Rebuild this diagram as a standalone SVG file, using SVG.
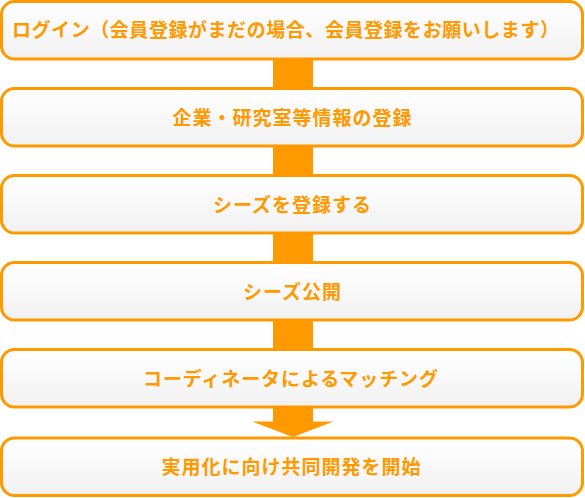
<svg xmlns="http://www.w3.org/2000/svg" width="585" height="498" viewBox="0 0 585 498">
<defs>
<linearGradient id="g" x1="0" y1="0" x2="0" y2="1">
<stop offset="0" stop-color="#ffffff"/>
<stop offset="1" stop-color="#f1f1f1"/>
</linearGradient>
<style>
.box{fill:url(#g);stroke:#ff9900;stroke-width:3}
.t{font-family:"Noto Sans CJK JP","Noto Sans CJK SC",sans-serif;font-size:19px;font-weight:bold;fill:#ff9900}
.c{text-anchor:middle}
.conn{fill:#ff9900}
</style>
</defs>
<g id="connectors">
<rect class="conn" x="273" y="59" width="40" height="30"/>
<rect class="conn" x="273" y="146" width="40" height="30"/>
<rect class="conn" x="273" y="233" width="40" height="30"/>
<rect class="conn" x="273" y="320" width="40" height="30"/>
<polygon class="conn" points="273,407 313,407 313,421.5 333.5,421.5 293,437 252,421.5 273,421.5"/>
</g>
<g id="n1">
<rect class="box" x="1.5" y="1.5" width="581" height="57.5" rx="13"/>
<text class="t" x="12" y="37" textLength="547" lengthAdjust="spacing">ログイン（会員登録がまだの場合、会員登録をお願いします）</text>
</g>
<g id="n2">
<rect class="box" x="1.5" y="88.5" width="581" height="57.5" rx="13"/>
<text class="t c" x="292" y="124.5" textLength="239" lengthAdjust="spacing">企業・研究室等情報の登録</text>
</g>
<g id="n3">
<rect class="box" x="1.5" y="175.5" width="581" height="57.5" rx="13"/>
<text class="t c" x="292" y="211.5" textLength="158" lengthAdjust="spacing">シーズを登録する</text>
</g>
<g id="n4">
<rect class="box" x="1.5" y="262.5" width="581" height="57.5" rx="13"/>
<text class="t c" x="292" y="298.5" textLength="98" lengthAdjust="spacing">シーズ公開</text>
</g>
<g id="n5">
<rect class="box" x="1.5" y="349.5" width="581" height="57.5" rx="13"/>
<text class="t c" x="290.5" y="385.5" textLength="295" lengthAdjust="spacing">コーディネータによるマッチング</text>
</g>
<g id="n6">
<rect class="box" x="1.5" y="438" width="581" height="57.5" rx="13"/>
<text class="t c" x="291" y="474" textLength="259" lengthAdjust="spacing">実用化に向け共同開発を開始</text>
</g>
</svg>
